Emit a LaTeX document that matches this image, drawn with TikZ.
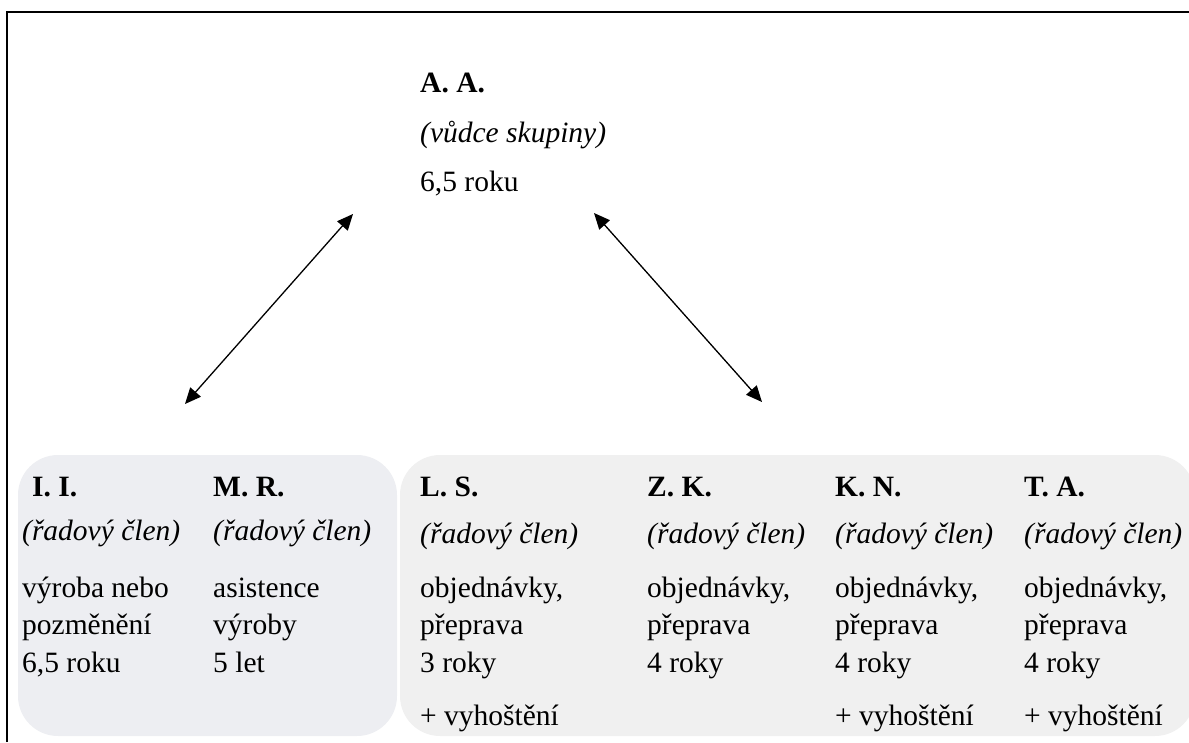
\documentclass[tikz,border=0pt]{standalone}
\usepackage{fontspec}
\setmainfont{Liberation Serif}
\usetikzlibrary{arrows.meta}
\definecolor{boxleft}{HTML}{EDEEF2}
\definecolor{boxright}{HTML}{F0F0F0}

\begin{document}
\begin{tikzpicture}[x=1pt,y=-1pt,
  txt/.style={anchor=base west,inner sep=0pt,align=left,
    font=\fontsize{29.5}{37.5}\selectfont},
  link/.style={{Triangle[length=16pt,width=14pt]}-{Triangle[length=16pt,width=14pt]},
    line width=1.3pt}]
\useasboundingbox (0,0) rectangle (1189,742);

% Frame
\draw[line width=2.5pt] (7,742) -- (7,12) -- (1189,12);

% Group leader
\node[txt] (aa) at (420,92) {\textbf{A. A.}};
\node[txt] (aa-role) at (420,142) {\textit{(vůdce skupiny)}};
\node[txt] (aa-info) at (420,191) {6,5 roku};

% Production (base of a multi-line node = its last line)
\begin{scope}
\fill[boxleft,rounded corners=40pt] (18,455) rectangle (397,736);
\node[txt] (ii) at (32,496) {\textbf{I. I.}};
\node[txt] (ii-role) at (22,540) {\textit{(řadový člen)}};
\node[txt] (ii-info) at (22,672) {výroba nebo\\pozměnění\\6,5 roku};
\node[txt] (mr) at (213,496) {\textbf{M. R.}};
\node[txt] (mr-role) at (213,540) {\textit{(řadový člen)}};
\node[txt] (mr-info) at (213,672) {asistence\\výroby\\5 let};
\end{scope}

% Orders and transport
\begin{scope}
\fill[boxright,rounded corners=40pt] (400,455) rectangle (1195,736);
\foreach \n/\x/\who/\yrs in {ls/420/L. S./3 roky, zk/647/Z. K./4 roky,
    kn/835/K. N./4 roky, ta/1024/T. A./4 roky}{
  \node[txt] (\n) at (\x,496) {\textbf{\who}};
  \node[txt] (\n-role) at (\x,543) {\textit{(řadový člen)}};
  \node[txt] (\n-info) at (\x,672) {objednávky,\\přeprava\\\yrs};
}
\foreach \n in {ls,kn,ta}
  \node[txt,yshift=-53pt] (\n-plus) at (\n-info.base west) {+ vyhoštění};
\end{scope}

% Links
\coordinate (up-l) at (353,214);
\coordinate (down-l) at (185,404);
\coordinate (up-r) at (594,213);
\coordinate (down-r) at (762,402);
\draw[link] (down-l) -- (up-l);
\draw[link] (up-r) -- (down-r);
\end{tikzpicture}
\end{document}
